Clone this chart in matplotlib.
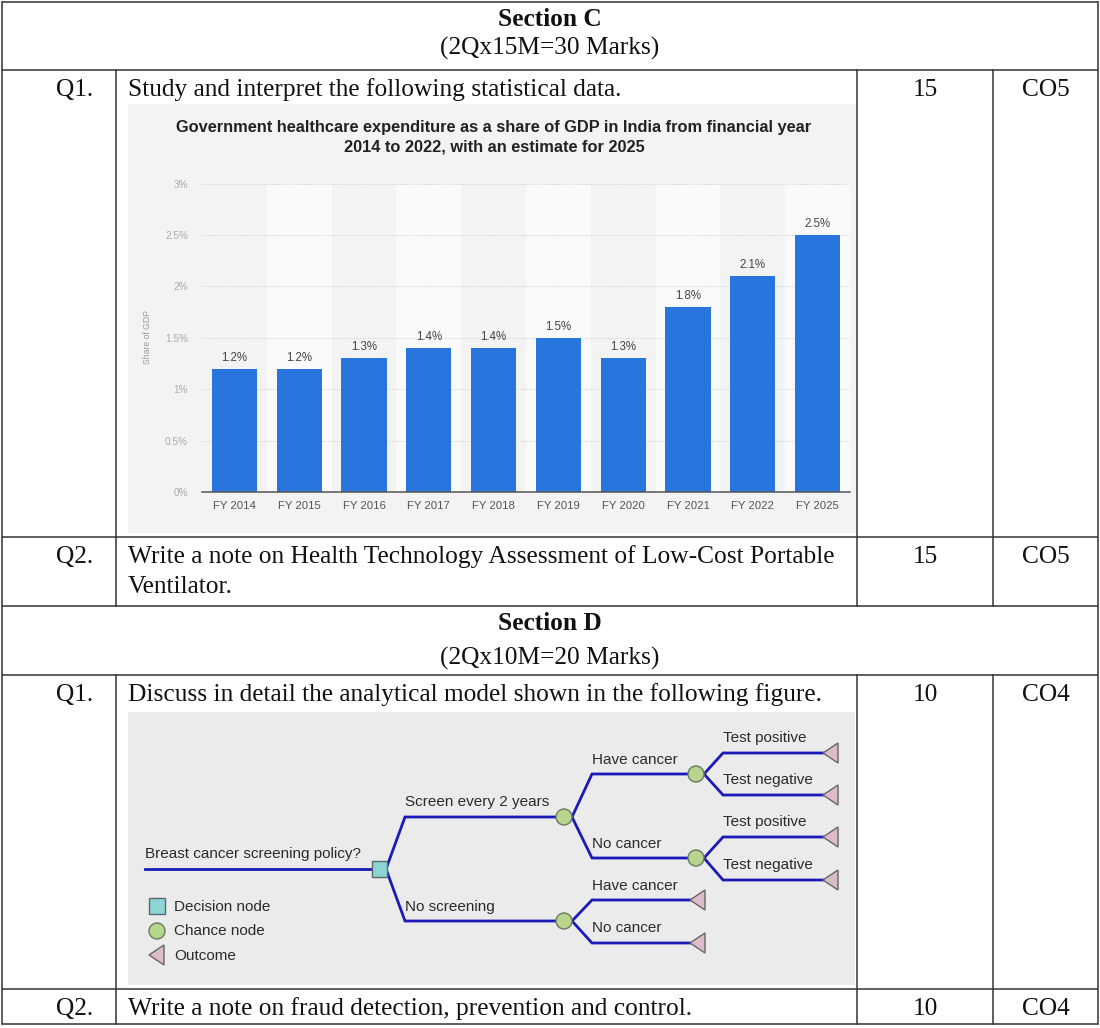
import matplotlib
matplotlib.use("Agg")
import matplotlib.pyplot as plt
from matplotlib.patches import Rectangle, Circle, Polygon

# ---------------- data ----------------
categories = ["FY 2014", "FY 2015", "FY 2016", "FY 2017", "FY 2018",
              "FY 2019", "FY 2020", "FY 2021", "FY 2022", "FY 2025"]
shares = [1.2, 1.2, 1.3, 1.4, 1.4, 1.5, 1.3, 1.8, 2.1, 2.5]
y_ticks = [0, 0.5, 1, 1.5, 2, 2.5, 3]
y_tick_labels = ["0%", "0.5%", "1%", "1.5%", "2%", "2.5%", "3%"]
chart_title = ("Government healthcare expenditure as a share of GDP in India from financial year\n"
               "2014 to 2022, with an estimate for 2025")

W, H = 1100, 1028
fig = plt.figure(figsize=(W / 100, H / 100), dpi=100)
ax = fig.add_axes([0, 0, 1, 1])
ax.set_xlim(0, W)
ax.set_ylim(H, 0)
ax.axis("off")

SERIF = "Liberation Serif"
TS = 18.3
LC = "#333333"
LW = 1.1

# ---------------- table lines ----------------
hl = [2, 70, 537, 606, 675, 989, 1024]
for y in hl:
    ax.plot([2, 1098], [y, y], color=LC, lw=LW, solid_capstyle="butt")
ax.plot([2, 2], [2, 1024], color=LC, lw=LW)
ax.plot([1098, 1098], [2, 1024], color=LC, lw=LW)
for (y0, y1) in [(70, 606), (675, 1024)]:
    for x in [116, 857, 993]:
        ax.plot([x, x], [y0, y1], color=LC, lw=LW)

def ttext(x, y, s, ha="left", bold=False):
    ax.text(x, y, s, ha=ha, va="baseline", fontsize=TS, family=SERIF,
            fontweight="bold" if bold else "normal", color="#111111")

ttext(550, 26, "Section C", ha="center", bold=True)
ttext(550, 55, "(2Qx15M=30 Marks)", ha="center")
ttext(93, 96, "Q1.", ha="right")
ttext(128, 96, "Study and interpret the following statistical data.")
ttext(925, 96, "15", ha="center")
ttext(1046, 96, "CO5", ha="center")
ttext(93, 563, "Q2.", ha="right")
ttext(128, 563, "Write a note on Health Technology Assessment of Low-Cost Portable")
ttext(128, 593, "Ventilator.")
ttext(925, 563, "15", ha="center")
ttext(1046, 563, "CO5", ha="center")
ttext(550, 630, "Section D", ha="center", bold=True)
ttext(550, 665, "(2Qx10M=20 Marks)", ha="center")
ttext(93, 701, "Q1.", ha="right")
ttext(128, 701, "Discuss in detail the analytical model shown in the following figure.")
ttext(925, 701, "10", ha="center")
ttext(1046, 701, "CO4", ha="center")
ttext(93, 1015, "Q2.", ha="right")
ttext(128, 1015, "Write a note on fraud detection, prevention and control.")
ttext(925, 1015, "10", ha="center")
ttext(1046, 1015, "CO4", ha="center")

# ---------------- bar chart ----------------
ax.add_patch(Rectangle((128, 104), 728, 429, facecolor="#f3f3f3", edgecolor="none", zorder=0))
ax.text(494, 137, chart_title, ha="center", va="center", fontsize=11.8,
        family="Liberation Sans", fontweight="bold", color="#222222", linespacing=1.35)
ax.text(147, 337, "Share of GDP", rotation=90, ha="center", va="center",
        fontsize=6.2, family="Liberation Sans", color="#999999")

px0, px1, py_top, py_bot = 202, 850, 183.5, 492
bx = fig.add_axes([px0 / W, 1 - py_bot / H, (px1 - px0) / W, (py_bot - py_top) / H])
bx.set_facecolor("none")
xs = list(range(len(categories)))
for i in xs:
    if i % 2 == 1:
        bx.axvspan(i - 0.5, i + 0.5, color="#fafafa", zorder=0, lw=0)
for t in y_ticks[1:]:
    bx.axhline(t, color="#d4d4d4", lw=0.7, ls=(0, (1.5, 1.5)), zorder=1)
bars = bx.bar(xs, shares, width=0.70, color="#2876dd", zorder=2)
for i, v in zip(xs, shares):
    bx.annotate(f"{v:.1f}%", (i, v), xytext=(0, 3.5), textcoords="offset points",
                ha="center", va="bottom", fontsize=8.3, family="Liberation Sans",
                color="#444444")
bx.set_xlim(-0.5, len(categories) - 0.5)
bx.set_ylim(0, 3)
bx.set_yticks(y_ticks)
bx.set_yticklabels(y_tick_labels, fontsize=7.2, family="Liberation Sans", color="#aaaaaa")
bx.set_xticks(xs)
bx.set_xticklabels(categories, fontsize=8.2, family="Liberation Sans", color="#555555")
bx.tick_params(length=0)
bx.tick_params(axis="x", pad=6.5)
bx.tick_params(axis="y", pad=10)
for s in ["top", "right", "left"]:
    bx.spines[s].set_visible(False)
bx.spines["bottom"].set_color("#555555")
bx.spines["bottom"].set_linewidth(1.1)
bx.spines["bottom"].set_zorder(3)

# ---------------- decision tree ----------------
ax.add_patch(Rectangle((128, 712), 727, 273, facecolor="#ebebeb", edgecolor="none", zorder=0))
BL = "#1a1ab8"
TF = "Liberation Sans"
TFS = 11
TC = "#2a2a2a"

def line(pts):
    xs_, ys_ = zip(*pts)
    ax.plot(xs_, ys_, color=BL, lw=2.0, solid_joinstyle="miter", zorder=2)

def circ(x, y):
    ax.add_patch(Circle((x, y), 8, facecolor="#b7d58c", edgecolor="#6a7a60", lw=1.0, zorder=3))

def tri(x, y):
    ax.add_patch(Polygon([(x, y), (x + 15, y - 10), (x + 15, y + 10)], closed=True,
                         facecolor="#dcbccb", edgecolor="#666666", lw=1.0, zorder=3))

def lbl(x, y, s):
    ax.text(x, y, s, ha="left", va="center", fontsize=TFS, family=TF, color=TC)

# root
line([(145, 869), (372, 869)])
lbl(145, 854, "Breast cancer screening policy?")
# branches from decision node
line([(386, 869), (405, 817), (556, 817)])
line([(386, 869), (405, 921), (556, 921)])
lbl(405, 802, "Screen every 2 years")
lbl(405, 907, "No screening")
ax.add_patch(Rectangle((372, 861), 15, 16, facecolor="#8fd4d4", edgecolor="#5a6a6a", lw=1.0, zorder=3))
# upper chance
circ(564, 817)
line([(572, 817), (592, 774), (688, 774)])
line([(572, 817), (592, 858), (688, 858)])
lbl(592, 760, "Have cancer")
lbl(592, 844, "No cancer")
for cy, (ty1, ty2) in [(774, (753, 795)), (858, (837, 880))]:
    circ(696, cy)
    line([(704, cy), (723, ty1), (823, ty1)])
    line([(704, cy), (723, ty2), (823, ty2)])
    tri(823, ty1)
    tri(823, ty2)
    lbl(723, ty1 - 15, "Test positive")
    lbl(723, ty2 - 15, "Test negative")
# lower chance
circ(564, 921)
line([(572, 921), (592, 900), (690, 900)])
line([(572, 921), (592, 943), (690, 943)])
tri(690, 900)
tri(690, 943)
lbl(592, 886, "Have cancer")
lbl(592, 928, "No cancer")
# legend
ax.add_patch(Rectangle((149, 898), 16, 16, facecolor="#8fd4d4", edgecolor="#5a6a6a", lw=1.0, zorder=3))
lbl(174, 907, "Decision node")
ax.add_patch(Circle((157, 931), 8, facecolor="#b7d58c", edgecolor="#6a7a60", lw=1.0, zorder=3))
lbl(174, 931, "Chance node")
tri(149, 955)
lbl(174, 956, "Outcome")

fig.savefig("out.png", dpi=100)
